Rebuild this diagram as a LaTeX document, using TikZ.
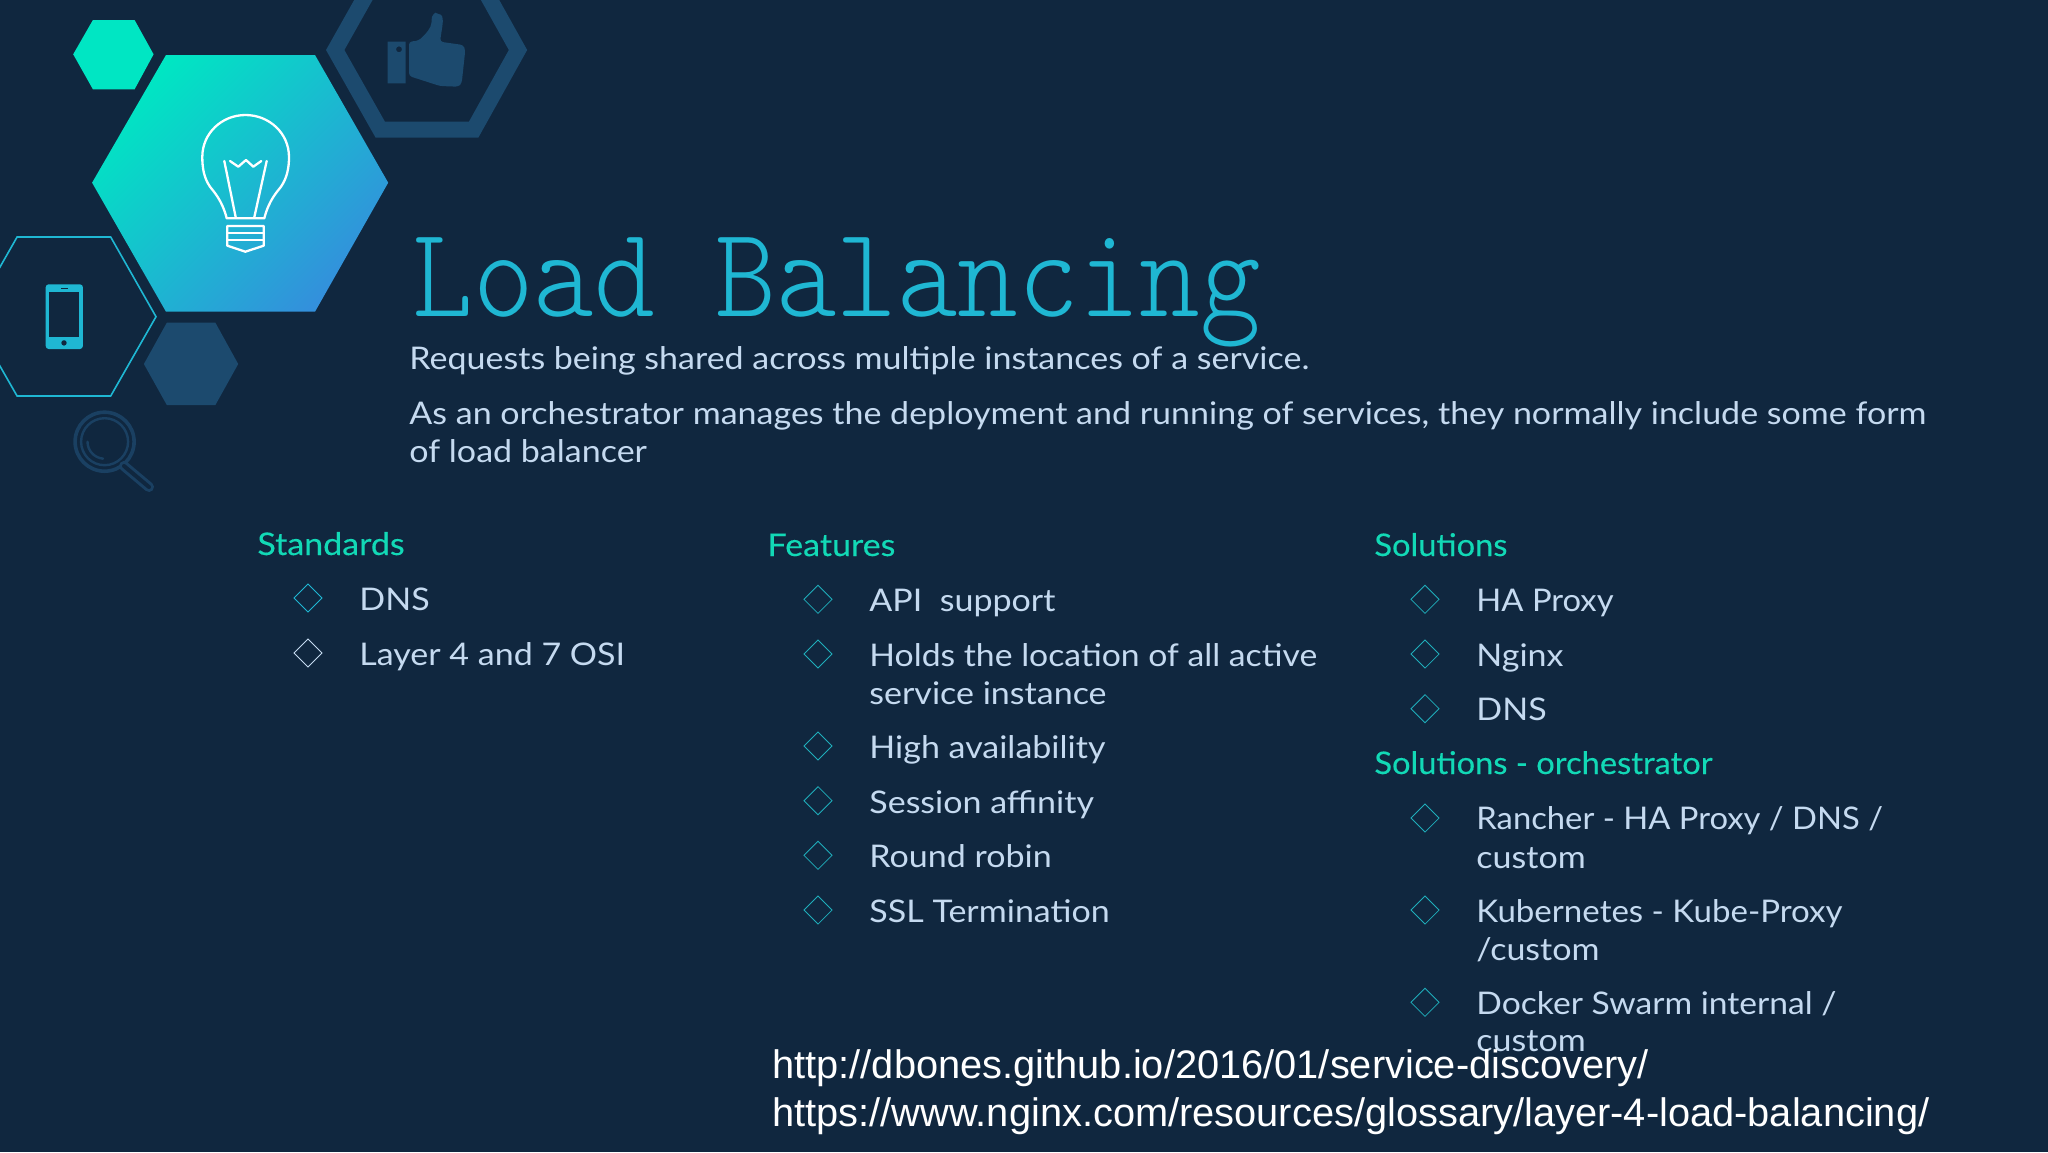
\documentclass[tikz,border=0pt]{standalone}
\usepackage{fontspec}
\setmainfont{Lato}[FakeStretch=1.09]
\newfontfamily\headfont{Lato}[FakeBold=0.25,FakeStretch=1.09]
\newfontfamily\urlfont{Liberation Sans}
\usetikzlibrary{shapes.geometric}
\definecolor{slidebg}{HTML}{10273F}
\definecolor{titlecol}{HTML}{1FB7D3}
\definecolor{bodycol}{HTML}{C5DAF0}
\definecolor{headcol}{HTML}{12D9B6}
\definecolor{teal}{HTML}{00E6C3}
\definecolor{gradend}{HTML}{3390DC}
\definecolor{hexblue}{HTML}{1C4A6E}
\definecolor{lensblue}{HTML}{1A4062}
\definecolor{diamcol}{HTML}{1FAEBB}
\begin{document}
\begin{tikzpicture}
		[x=.5pt,y=-.5pt,
		label/.style={anchor=base west,inner sep=0pt,yshift=-.5pt,text=bodycol,font=\fontsize{15.6}{18}\selectfont},
		heading/.style={anchor=base west,inner sep=0pt,text=headcol,font=\fontsize{15.6}{18}\selectfont\headfont},
		link/.style={anchor=base west,inner sep=0pt,text=white,font=\fontsize{19.9}{22}\selectfont\urlfont},
		bullet/.style={diamond,draw=diamcol,line width=.4pt,minimum size=14.2pt,inner sep=0pt},
		bulbline/.style={draw=white,line width=1.15pt,line join=round,line cap=round}
		]
		\useasboundingbox (0,0) rectangle (2048,1152);
		\fill[slidebg] (0,0) rectangle (2048,1152);
		\clip (0,0) rectangle (2048,1152);

		\fill[teal] (73.2,54.3) -- (92.9,20) -- (134.6,20) -- (153.6,54.3) -- (134.6,89.3) -- (92.9,89.3) -- cycle;
		\shade[top color=teal,bottom color=gradend,shading angle=45] (92.1,182.7) -- (166,55) -- (315,55) -- (388.2,182.7) -- (315,311.7) -- (166,311.7) -- cycle;
		\draw[hexblue,line width=8pt,miter limit=4] (369,-10) -- (335.2,50) -- (380.3,129.7) -- (473.6,129.7) -- (518,50) -- (484.5,-10);
		\draw[titlecol,line width=.8pt] (17.1,237) -- (110.7,237) -- (156,316.7) -- (110.7,396) -- (17.1,396) -- (-28.3,316.7) -- cycle;
		\fill[hexblue] (143.9,364) -- (166.8,322.7) -- (215.4,322.7) -- (238.2,364) -- (215.4,405) -- (166.8,405) -- cycle;

		\draw[bulbline] (226.7,218.3) .. controls (222,200) and (214,192) .. (210,186.7) .. controls (204,178) and (202.3,168) .. (202.3,157) .. controls (202.3,133) and (222,115) .. (245.5,115) .. controls (269,115) and (289,133) .. (289,157) .. controls (289,168) and (287,178) .. (281,186.7) .. controls (277,192) and (269,200) .. (264.3,218.3) -- cycle;
		\draw[bulbline] (224.3,161) -- (235.7,217.3);
		\draw[bulbline] (266.7,161) -- (254.3,217.3);
		\draw[bulbline] (230,161) -- (238.3,166.7) -- (246,160) -- (253.3,166.7) -- (261.3,161);
		\draw[bulbline] (227.3,226) -- (263.7,226) -- (263.7,245.7) -- (245.3,251.7) -- (227.3,245.7) -- cycle;
		\draw[bulbline] (227.3,233.3) -- (263.7,233.3);
		\draw[bulbline] (227.3,240) -- (263.7,240);

		\fill[hexblue,even odd rule] (387.7,41.7) rectangle (405.7,83.3) (399,49.3) circle (3);
		\fill[hexblue,rounded corners=1.5pt] (409,41.7) -- (418.3,40.7) .. controls (426,34) and (431,28) .. (431.7,20) .. controls (432,14) and (436,13) .. (438,14) .. controls (442,15) and (443,18) .. (442.7,24) -- (440,41.7) -- (463.3,45) -- (465.3,50) -- (461.7,83.3) -- (458.3,86.7) -- (440,86) -- (409,76) -- cycle;

		\fill[titlecol,rounded corners=1.5pt] (45.7,284.3) rectangle (82.9,349);
		\fill[slidebg] (49.3,292.3) rectangle (79.3,337.3);
		\fill[slidebg] (60.5,287.5) rectangle (67.5,289.3);
		\fill[slidebg] (64,342.9) circle (2.7);

		\draw[lensblue,line width=1.8pt] (104.6,441.7) circle (29.5);
		\draw[lensblue,line width=1.2pt] (104.6,441.7) circle (23.5);
		\draw[lensblue,line width=1.2pt,line cap=round] (87.5,441.7) arc (180:95:17);
		\draw[lensblue,line width=5pt,line cap=round] (124,466) -- (149,487);
		\draw[slidebg,line width=2pt,line cap=round] (124,466) -- (149,487);

		\node[anchor=base west,inner sep=0pt,text=titlecol] (title) at (412,316) {\scalebox{.895}[1]{\fontsize{64.5}{70}\ttfamily\fontseries{l}\selectfont Load Balancing}};
		\node[label] (intro1) at (409,368) {Requests being shared across multiple instances of a service.};
		\node[label] (intro2) at (409,423) {As an orchestrator manages the deployment and running of services, they normally include some form};
		\node[label] (intro3) at (409,461) {of load balancer};

		\node[heading] (standards) at (257,555) {Standards};
		\node[bullet,draw=titlecol] (s1) at (308,598) {};
		\node[bullet,draw=bodycol] (s2) at (308,653) {};
		\node[label] (dns) at (359,609) {DNS};
		\node[label] (osi) at (359,664) {Layer 4 and 7 OSI};

		\node[heading] (features) at (767,556) {Features};
		\node[bullet] (f1) at (818,599.3) {};
		\node[bullet] (f2) at (818,654) {};
		\node[bullet] (f3) at (818,746) {};
		\node[bullet] (f4) at (818,800.7) {};
		\node[bullet] (f5) at (818,855.3) {};
		\node[bullet] (f6) at (818,910) {};
		\node[label] (api) at (869,610) {API\ \ support};
		\node[label] (holds) at (869,665) {\scalebox{.992}[1]{Holds the location of all active}};
		\node[label] (inst) at (869,703) {service instance};
		\node[label] (high) at (869,757) {High availability};
		\node[label] (sess) at (869,812) {Session affinity};
		\node[label] (robin) at (869,866) {Round robin};
		\node[label] (ssl) at (869,921) {SSL Termination};

		\node[heading] (solutions) at (1374,556) {\scalebox{.96}[1]{Solutions}};
		\node[bullet] (p1) at (1425,599.3) {};
		\node[bullet] (p2) at (1425,654) {};
		\node[bullet] (p3) at (1425,708.7) {};
		\node[label] (haproxy) at (1476,610) {\scalebox{.963}[1]{HA Proxy}};
		\node[label] (nginx) at (1476,665) {Nginx};
		\node[label] (dns2) at (1476,719) {DNS};
		\node[heading] (orch) at (1374,774) {\scalebox{.96}[1]{Solutions - orchestrator}};
		\node[bullet] (o1) at (1425,818) {};
		\node[bullet] (o2) at (1425,910) {};
		\node[bullet] (o3) at (1425,1002.3) {};
		\node[label] (rancher) at (1476,828) {\scalebox{.963}[1]{Rancher - HA Proxy / DNS /}};
		\node[label] (custom1) at (1476,867) {custom};
		\node[label] (kube) at (1476,921) {\scalebox{.972}[1]{Kubernetes - Kube-Proxy}};
		\node[label] (custom2) at (1476,959) {/custom};
		\node[label] (docker) at (1476,1013) {\scalebox{.989}[1]{Docker Swarm internal /}};
		\node[label] (custom3) at (1476,1050) {custom};

		\node[link] (url1) at (772,1078) {http://dbones.github.io/2016/01/service-discovery/};
		\node[link] (url2) at (772,1126) {https://www.nginx.com/resources/glossary/layer-4-load-balancing/};
	\end{tikzpicture}
\end{document}
